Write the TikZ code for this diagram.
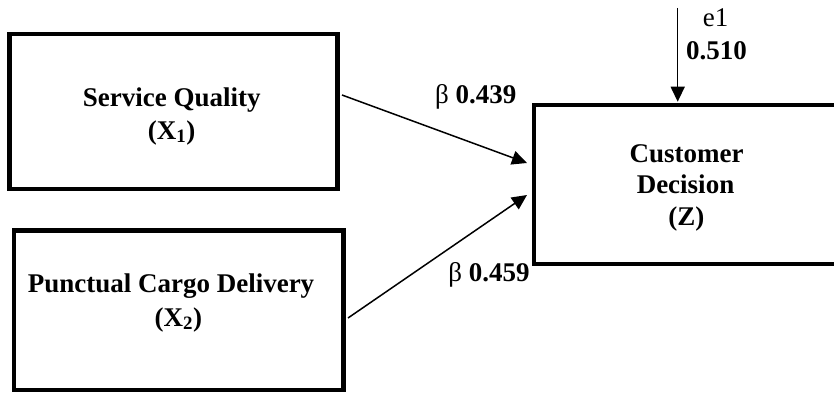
\documentclass[tikz,border=0pt]{standalone}
\usepackage{fontspec}
\setmainfont{Liberation Serif}
\usetikzlibrary{arrows.meta}
\begin{document}
\begin{tikzpicture}[x=1pt,y=-1pt,
  box/.style={draw,line width=4.2pt,rectangle,inner sep=0pt},
  lbl/.style={anchor=base,inner sep=0pt,font=\fontsize{27}{32}\selectfont\bfseries},
  coef/.style={anchor=base,inner sep=0pt,font=\fontsize{27}{32}\selectfont},
  arr/.style={line width=1.5pt,-{Triangle[length=15pt,width=14pt]}}]
\useasboundingbox (0,0) rectangle (834,393);
\clip (0,0) rectangle (834,393);
% boxes
\node[box,minimum width=328pt,minimum height=155pt] (A) at (173.5,111.5) {};
\node[box,minimum width=329.5pt,minimum height=159.5pt] (B) at (178.75,310.25) {};
\node[box,minimum width=366.3pt,minimum height=158.4pt] (Z) at (716.85,184.5) {};
% texts
\node[lbl] (a1) at (171.7,106.7) {Service Quality};
\node[lbl] (a2) at (171.7,139) {(X\textsubscript{1})};
\node[lbl] (b1) at (171,292) {Punctual Cargo Delivery};
\node[lbl] (b2) at (178.3,326) {(X\textsubscript{2})};
\node[lbl] (z1) at (686.7,162) {Customer};
\node[lbl] (z2) at (685.5,193.3) {Decision};
\node[lbl] (z3) at (686.3,225.5) {(Z)};
% coefficients
\node[coef] (c1) at (475.8,103) {β \textbf{0.439}};
\node[coef] (c2) at (489,281) {β \textbf{0.459}};
\node[coef] (e1) at (715.5,27) {e1};
\node[lbl] (e1v) at (716.5,60) {0.510};
% connector ends
\coordinate (s1) at (342,95);
\coordinate (t1) at (527,163);
\coordinate (s2) at (348,318);
\coordinate (t2) at (527,195);
\coordinate (etop) at (677.7,8);
% connectors
\draw[arr] (s1) -- (t1);
\draw[arr] (s2) -- (t2);
\draw[arr,shorten >=1.5pt] (etop) -- (etop |- Z.north);
\end{tikzpicture}
\end{document}
